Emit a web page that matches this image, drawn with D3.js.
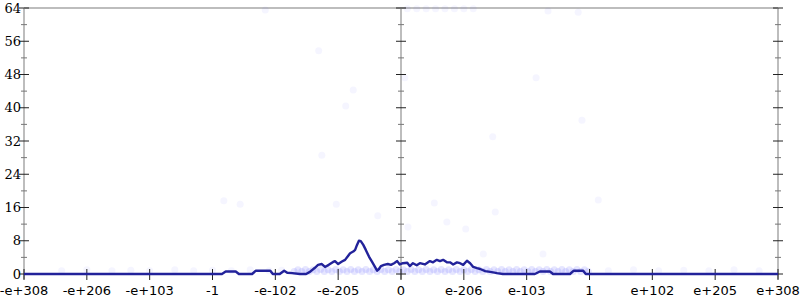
<!DOCTYPE html>
<html><head><meta charset="utf-8">
<script src="https://cdn.jsdelivr.net/npm/d3@7"></script>
<style>html,body{margin:0;padding:0;background:#fff;}svg{display:block;}</style>
</head><body>
<svg id="c" width="800" height="300"></svg>
<script>
// x tick labels (evenly spaced on an index scale 0..12)
const xTickLabels = ["-e+308","-e+206","-e+103","-1","-e-102","-e-205","0","e-206","e-103","1","e+102","e+205","e+308"];
const yTicks = [0,8,16,24,32,40,48,56,64];
const yMinorTicks = [4,12,20,28,36,44,52,60];
// line series: x in index units, y count
const lineX = [0,3.15,3.21,3.37,3.42,3.63,3.69,3.92,3.96,4.07,4.14,4.19,4.27,4.39,4.49,4.55,4.63,4.68,4.74,4.79,4.85,4.92,4.95,5.00,5.06,5.11,5.16,5.19,5.24,5.27,5.30,5.33,5.36,5.40,5.44,5.49,5.54,5.59,5.62,5.65,5.68,5.73,5.79,5.84,5.89,5.94,5.98,6.03,6.10,6.14,6.19,6.25,6.30,6.38,6.46,6.51,6.57,6.62,6.67,6.73,6.78,6.83,6.89,6.94,6.99,7.05,7.10,7.15,7.21,7.26,7.34,7.42,7.53,7.62,8.13,8.21,8.37,8.42,8.69,8.75,8.90,8.94,12];
const lineY = [0,0,0.6,0.6,0,0,0.8,0.8,0,0,0.8,0.3,0.2,0,0,0.5,1.5,2.2,2.4,1.7,2.2,2.9,3.1,2.4,3.0,3.4,4.4,5.0,5.4,5.8,7.0,8.0,7.9,7.0,5.8,4.2,2.9,1.6,0.8,1.2,1.9,2.2,2.4,2.2,2.6,3.1,2.3,2.6,2.7,1.9,2.6,2.1,2.6,2.3,3.1,2.8,3.4,3.1,3.4,2.8,2.8,2.3,2.8,2.6,2.2,3.2,2.6,1.7,1.4,1.2,0.7,0.5,0.2,0,0,0.6,0.6,0,0,0.8,0.8,0,0];
// faint scattered points
const dotX = [6.06,8.15,8.34,8.82,6.10,6.25,6.40,6.55,6.70,6.85,7.00,7.15,3.84,3.18,3.44,4.97,5.63,6.53,6.11,6.73,7.03,7.50,7.31,8.26,4.74,5.12,5.24,7.46,8.88,9.14,4.69,
 0.6,1.0,1.4,1.7,2.0,2.4,2.7,3.0,3.3,3.6,3.9,4.1,9.3,9.7,10.1,10.5,10.9,11.3,11.7];
const dotY = [47.2,47.2,63.3,63.0,63.8,63.8,63.8,63.8,63.8,63.8,63.8,63.8,63.5,17.6,16.8,16.8,14.0,17.1,11.3,12.5,10.8,14.9,4.8,4.8,28.6,40.4,44.3,33,37,17.8,53.7,
 0.8,1.0,0.8,0.9,0.8,1.0,0.8,0.9,0.8,1.0,0.8,0.9,0.8,1.0,0.8,0.9,0.8,1.0,0.8];
// dense band of points near zero
const bandX = [4.30,4.36,4.42,4.48,4.54,4.60,4.66,4.72,4.78,4.84,4.90,4.96,5.02,5.08,5.14,5.20,5.26,5.32,5.38,5.44,5.50,5.56,5.62,5.68,5.74,5.80,5.86,5.92,5.98,6.04,6.10,6.16,6.22,6.28,6.34,6.40,6.46,6.52,6.58,6.64,6.70,6.76,6.82,6.88,6.94,7.00,7.06,7.12,7.18,7.24,7.30,7.36,7.42,7.48,7.54,7.60,7.66,7.72,7.78,7.84,7.90,7.96,8.02,8.08,8.14,8.20,8.26,8.32,8.38,8.44,8.50,8.56,8.62,8.68,8.74,8.80,8.86,8.92,8.98];
const bandY = [0.6,1.0,0.6,1.1,0.6,1.0,0.6,1.1,0.6,1.0,0.6,1.1,0.6,1.0,0.6,1.1,0.6,1.0,0.6,1.1,0.6,1.0,0.6,1.1,0.6,1.0,0.6,1.1,0.6,1.0,0.6,1.1,0.6,1.0,0.6,1.1,0.6,1.0,0.6,1.1,0.6,1.0,0.6,1.1,0.6,1.0,0.6,1.1,0.6,1.0,0.6,1.1,0.6,1.0,0.6,1.1,0.6,1.0,0.6,1.1,0.6,1.0,0.6,1.1,0.6,1.0,0.6,1.1,0.6,1.0,0.6,1.1,0.6,1.0,0.6,1.1,0.6,1.0,0.6];

const svg = d3.select("#c");
const L = 24, R = 778, T = 8, B = 274;
const x = d3.scaleLinear().domain([0, 12]).range([L, R]);
const y = d3.scaleLinear().domain([0, 64]).range([B, T]);

// frame lines (gray)
const gray = "#bdbdbd";
svg.append("line").attr("x1", L).attr("x2", R).attr("y1", T).attr("y2", T).attr("stroke", gray).attr("stroke-width", 2);
[0, 6, 12].forEach(i => {
  svg.append("line").attr("x1", x(i)).attr("x2", x(i)).attr("y1", T).attr("y2", B + 5).attr("stroke", gray).attr("stroke-width", 2);
});

// dots
svg.append("g").selectAll("circle").data(dotX.map((d, i) => [d, dotY[i]])).join("circle")
  .attr("cx", d => x(d[0])).attr("cy", d => y(d[1])).attr("r", 3.5)
  .attr("fill", "rgb(80,80,255)").attr("fill-opacity", 0.06);
svg.append("g").selectAll("circle").data(bandX.map((d, i) => [d, bandY[i]])).join("circle")
  .attr("cx", d => x(d[0])).attr("cy", d => y(d[1])).attr("r", 3.5)
  .attr("fill", "rgb(80,80,255)").attr("fill-opacity", 0.14);

// y ticks on the three vertical axes
[0, 6, 12].forEach(i => {
  const cx = x(i);
  const ga = svg.append("g");
  ga.selectAll("line.maj").data(yTicks).join("line")
    .attr("x1", cx - 5).attr("x2", cx + 5)
    .attr("y1", d => y(d)).attr("y2", d => y(d)).attr("stroke", "#222").attr("stroke-width", 1);
  ga.selectAll("line.min").data(yMinorTicks).join("line")
    .attr("x1", cx - 3).attr("x2", cx + 3)
    .attr("y1", d => y(d)).attr("y2", d => y(d)).attr("stroke", "#777").attr("stroke-width", 1);
});

// y labels
svg.append("g").selectAll("text").data(yTicks).join("text")
  .attr("x", 21).attr("y", d => y(d)).attr("dy", "0.36em")
  .attr("text-anchor", "end").attr("font-family", "DejaVu Serif").attr("font-size", 13)
  .attr("fill", "#000").text(d => d);

// x ticks
svg.append("g").selectAll("line").data(xTickLabels).join("line")
  .attr("x1", (d, i) => x(i)).attr("x2", (d, i) => x(i)).attr("y1", B - 5).attr("y2", B + 6)
  .attr("stroke", "#222").attr("stroke-width", 1);
svg.append("g").selectAll("text").data(xTickLabels).join("text")
  .attr("x", (d, i) => x(i)).attr("y", 295)
  .attr("text-anchor", "middle").attr("font-family", "DejaVu Sans").attr("font-size", 13)
  .attr("fill", "#000").text(d => d);

// line
const line = d3.line().x(d => x(d[0])).y(d => y(d[1]));
svg.append("path").datum(lineX.map((d, i) => [d, lineY[i]]))
  .attr("d", line).attr("fill", "none").attr("stroke", "#22229a").attr("stroke-width", 2.4)
  .attr("stroke-linejoin", "round");
</script>
</body></html>
